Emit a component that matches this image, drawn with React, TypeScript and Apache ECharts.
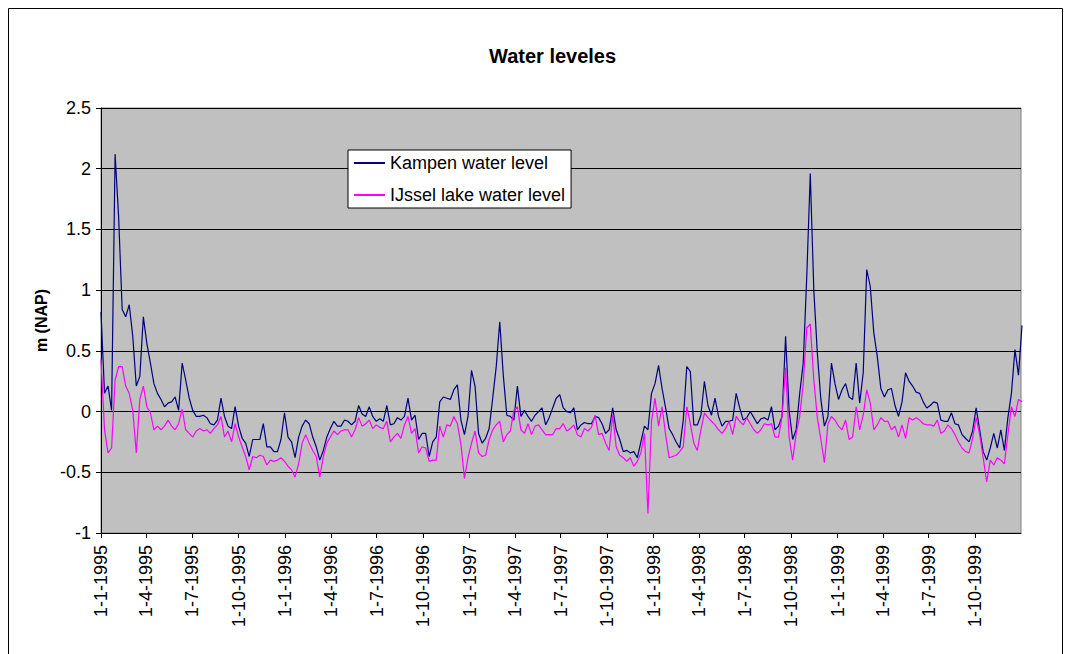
import React, { useEffect, useRef } from 'react';
import * as echarts from 'echarts';

// ---- data ----
const START_DATE = '1-1-1995';
const END_DATE = '31-12-1999';
const STEP_DAYS = 7; // one sample per week
const seriesNames = ['Kampen water level', 'IJssel lake water level'];

const kampen = [
  0.82, 0.15, 0.21, 0.01, 2.12, 1.6, 0.84, 0.78, 0.88, 0.62, 0.21, 0.29, 0.78, 0.56, 0.4, 0.23, 0.15, 0.1, 0.04, 0.07, 0.08, 0.12, 0.01, 0.4,
  0.26, 0.11, 0.01, -0.04, -0.04, -0.03, -0.05, -0.1, -0.11, -0.07, 0.11, -0.04, -0.12, -0.14, 0.04, -0.12, -0.22, -0.26, -0.37, -0.23, -0.23, -0.23, -0.1,
  -0.29, -0.29, -0.33, -0.33, -0.23, -0.01, -0.21, -0.25, -0.38, -0.21, -0.12, -0.07, -0.1, -0.21, -0.29, -0.4, -0.32, -0.21, -0.14, -0.08, -0.12, -0.12, -0.07, -0.08,
  -0.11, -0.08, 0.05, -0.02, -0.04, 0.04, -0.04, -0.08, -0.06, -0.08, 0.05, -0.11, -0.1, -0.05, -0.07, -0.04, 0.11, -0.07, -0.03, -0.23, -0.18, -0.18, -0.37, -0.25,
  -0.21, 0.08, 0.12, 0.11, 0.1, 0.18, 0.22, -0.07, -0.19, -0.04, 0.34, 0.21, -0.18, -0.26, -0.22, -0.14, 0.11, 0.37, 0.74, 0.3, -0.03, -0.04, -0.07, 0.21,
  -0.04, 0.01, -0.04, -0.08, -0.03, 0, 0.03, -0.11, -0.05, 0.03, 0.11, 0.14, 0.03, 0, -0.01, 0.03, -0.15, -0.11, -0.09, -0.1, -0.1, -0.04, -0.05, -0.1,
  -0.18, -0.15, 0.03, -0.15, -0.23, -0.33, -0.32, -0.34, -0.33, -0.38, -0.25, -0.12, -0.15, 0.15, 0.23, 0.38, 0.19, 0.03, -0.14, -0.19, -0.25, -0.3, -0.07,
  0.37, 0.33, -0.11, -0.11, -0.03, 0.25, 0.05, -0.03, 0.11, -0.04, -0.12, -0.08, -0.08, -0.07, 0.15, 0.03, -0.07, -0.05, 0, -0.05, -0.1, -0.06, -0.05, -0.07,
  0.04, -0.15, -0.12, -0.04, 0.62, 0.01, -0.23, -0.15, 0.15, 0.4, 1.11, 1.96, 1.0, 0.48, 0.1, -0.12, -0.04, 0.4, 0.23, 0.1, 0.18, 0.23, 0.12, 0.1,
  0.4, 0.07, 0.32, 1.17, 1.03, 0.65, 0.45, 0.19, 0.12, 0.18, 0.19, 0.05, -0.04, 0.08, 0.32, 0.25, 0.21, 0.16, 0.15, 0.08, 0.03, 0.05, 0.08, 0.07,
  -0.07, -0.08, -0.08, -0.01, -0.1, -0.11, -0.19, -0.22, -0.25, -0.16, 0.03, -0.15, -0.33, -0.4, -0.3, -0.18, -0.3, -0.15, -0.32, -0.05, 0.15, 0.51, 0.3, 0.71,
];

const ijssel = [
  0.43, -0.15, -0.34, -0.3, 0.26, 0.37, 0.37, 0.21, 0.15, 0.01, -0.34, 0.1, 0.21, 0.04, -0.01, -0.15, -0.12, -0.15, -0.12, -0.07, -0.12, -0.15, -0.1, 0.02,
  -0.15, -0.18, -0.21, -0.16, -0.14, -0.16, -0.15, -0.18, -0.14, -0.11, -0.04, -0.21, -0.16, -0.25, -0.1, -0.21, -0.29, -0.37, -0.48, -0.37, -0.38, -0.36, -0.37,
  -0.44, -0.4, -0.41, -0.4, -0.38, -0.41, -0.45, -0.48, -0.54, -0.43, -0.26, -0.19, -0.26, -0.32, -0.37, -0.54, -0.37, -0.26, -0.21, -0.16, -0.19, -0.16, -0.15, -0.15,
  -0.21, -0.15, -0.05, -0.12, -0.1, -0.07, -0.14, -0.11, -0.13, -0.14, -0.08, -0.25, -0.21, -0.18, -0.22, -0.11, -0.04, -0.18, -0.14, -0.34, -0.29, -0.3, -0.41, -0.4,
  -0.4, -0.12, -0.21, -0.11, -0.12, -0.04, -0.1, -0.27, -0.55, -0.38, -0.26, -0.16, -0.34, -0.37, -0.36, -0.23, -0.15, -0.11, -0.08, -0.25, -0.19, -0.16, 0.01, 0.04,
  -0.15, -0.18, -0.1, -0.19, -0.12, -0.11, -0.15, -0.19, -0.19, -0.19, -0.14, -0.14, -0.1, -0.16, -0.14, -0.11, -0.19, -0.21, -0.14, -0.16, -0.13, -0.03, -0.19, -0.18,
  -0.26, -0.32, -0.03, -0.29, -0.36, -0.38, -0.41, -0.38, -0.45, -0.41, -0.34, -0.18, -0.84, -0.08, 0.11, -0.12, 0.04, -0.19, -0.38, -0.37, -0.36, -0.33, -0.29,
  0.04, -0.1, -0.26, -0.32, -0.15, -0.01, -0.05, -0.08, -0.11, -0.15, -0.18, -0.14, -0.08, -0.19, -0.04, -0.08, -0.11, -0.05, -0.1, -0.15, -0.18, -0.15, -0.1, -0.11,
  -0.1, -0.21, -0.21, -0.04, 0.36, -0.21, -0.4, -0.18, -0.04, 0.23, 0.69, 0.72, 0.26, -0.05, -0.23, -0.42, -0.1, -0.04, -0.07, -0.12, -0.15, -0.07, -0.23, -0.21,
  0.04, -0.15, -0.03, 0.18, 0.07, -0.15, -0.11, -0.05, -0.08, -0.08, -0.15, -0.12, -0.21, -0.11, -0.22, -0.05, -0.07, -0.05, -0.07, -0.1, -0.11, -0.11, -0.12, -0.07,
  -0.18, -0.16, -0.11, -0.14, -0.19, -0.25, -0.3, -0.33, -0.34, -0.22, -0.05, -0.19, -0.38, -0.58, -0.4, -0.44, -0.38, -0.4, -0.43, -0.19, 0.04, -0.04, 0.1, 0.08,
];

const tickLabels = [
  '1-1-1995', '1-4-1995', '1-7-1995', '1-10-1995',
  '1-1-1996', '1-4-1996', '1-7-1996', '1-10-1996',
  '1-1-1997', '1-4-1997', '1-7-1997', '1-10-1997',
  '1-1-1998', '1-4-1998', '1-7-1998', '1-10-1998',
  '1-1-1999', '1-4-1999', '1-7-1999', '1-10-1999',
];

const yTicks = { min: -1, max: 2.5, interval: 0.5 };

// ---- helpers ----
function toUTC(label: string): number {
  const [d, m, y] = label.split('-').map(Number);
  return Date.UTC(y, m - 1, d);
}
const startMs = toUTC(START_DATE);
function dayOf(label: string): number {
  return Math.round((toUTC(label) - startMs) / 86400000);
}
const tickDays = tickLabels.map(dayOf);
const labelByDay: Record<number, string> = {};
tickDays.forEach((d, i) => (labelByDay[d] = tickLabels[i]));
const lastDay = dayOf(END_DATE);

const FONT = '"Liberation Sans", Arial, Helvetica, sans-serif';
const COLORS = ['#000080', '#FF00FF'];

export default function App() {
  const ref = useRef<HTMLDivElement>(null);

  useEffect(() => {
    if (!ref.current) return;
    const chart = echarts.init(ref.current, undefined, { renderer: 'svg' });
    const option: any = {
      animation: false,
      backgroundColor: '#ffffff',
      textStyle: { fontFamily: FONT },
      title: {
        text: 'Water leveles',
        left: 489,
        top: 46,
        padding: 0,
        textStyle: { fontFamily: FONT, fontSize: 20, fontWeight: 'bold', color: '#000' },
      },
      legend: {
        data: seriesNames.map((n) => ({ name: n, icon: 'rect' })),
        orient: 'vertical',
        left: 348,
        top: 150,
        padding: [4, 6, 4, 6],
        itemGap: 14,
        itemWidth: 31,
        itemHeight: 2,
        backgroundColor: '#ffffff',
        borderColor: '#000',
        borderWidth: 1,
        borderRadius: 0,
        itemStyle: { borderWidth: 0 },
        textStyle: { fontFamily: FONT, fontSize: 18, color: '#000' },
      },
      grid: {
        left: 101,
        top: 108,
        width: 920,
        height: 425,
        show: true,
        backgroundColor: '#C0C0C0',
        borderColor: '#808080',
        borderWidth: 1,
      },
      xAxis: {
        type: 'value',
        min: 0,
        max: lastDay,
        axisLine: { show: true, onZero: false, lineStyle: { color: '#000', width: 1 } },
        axisTick: { show: true, customValues: tickDays, length: 5, lineStyle: { color: '#000' } },
        axisLabel: {
          customValues: tickDays,
          formatter: (v: number) => labelByDay[Math.round(v)] ?? '',
          rotate: 90,
          fontFamily: FONT,
          fontSize: 18,
          color: '#000',
          margin: 12,
        },
        splitLine: { show: false },
      },
      yAxis: {
        type: 'value',
        min: yTicks.min,
        max: yTicks.max,
        interval: yTicks.interval,
        name: 'm (NAP)',
        nameLocation: 'middle',
        nameGap: 50,
        nameTextStyle: { fontFamily: FONT, fontSize: 16, fontWeight: 'bold', color: '#000' },
        axisLine: { show: true, lineStyle: { color: '#000', width: 1 } },
        axisTick: { show: true, length: 5, lineStyle: { color: '#000' } },
        axisLabel: { fontFamily: FONT, fontSize: 18, color: '#000', margin: 10 },
        splitLine: { show: true, lineStyle: { color: '#000', width: 1 } },
      },
      graphic: [
        {
          type: 'rect',
          shape: { x: 8.5, y: 8.5, width: 1054, height: 700 },
          style: { fill: 'none', stroke: '#000', lineWidth: 1 },
          silent: true,
        },
      ],
      series: [
        {
          name: seriesNames[0],
          type: 'line',
          data: kampen.map((v, i) => [i * STEP_DAYS, v]),
          symbol: 'none',
          clip: true,
          lineStyle: { color: COLORS[0], width: 1.2 },
          itemStyle: { color: COLORS[0] },
        },
        {
          name: seriesNames[1],
          type: 'line',
          data: ijssel.map((v, i) => [i * STEP_DAYS, v]),
          symbol: 'none',
          clip: true,
          lineStyle: { color: COLORS[1], width: 1.2 },
          itemStyle: { color: COLORS[1] },
        },
      ],
    };
    chart.setOption(option);
    return () => chart.dispose();
  }, []);

  return (
    <div
      ref={ref}
      style={{ position: 'fixed', left: 0, top: 0, width: 1070, height: 654 }}
    />
  );
}
